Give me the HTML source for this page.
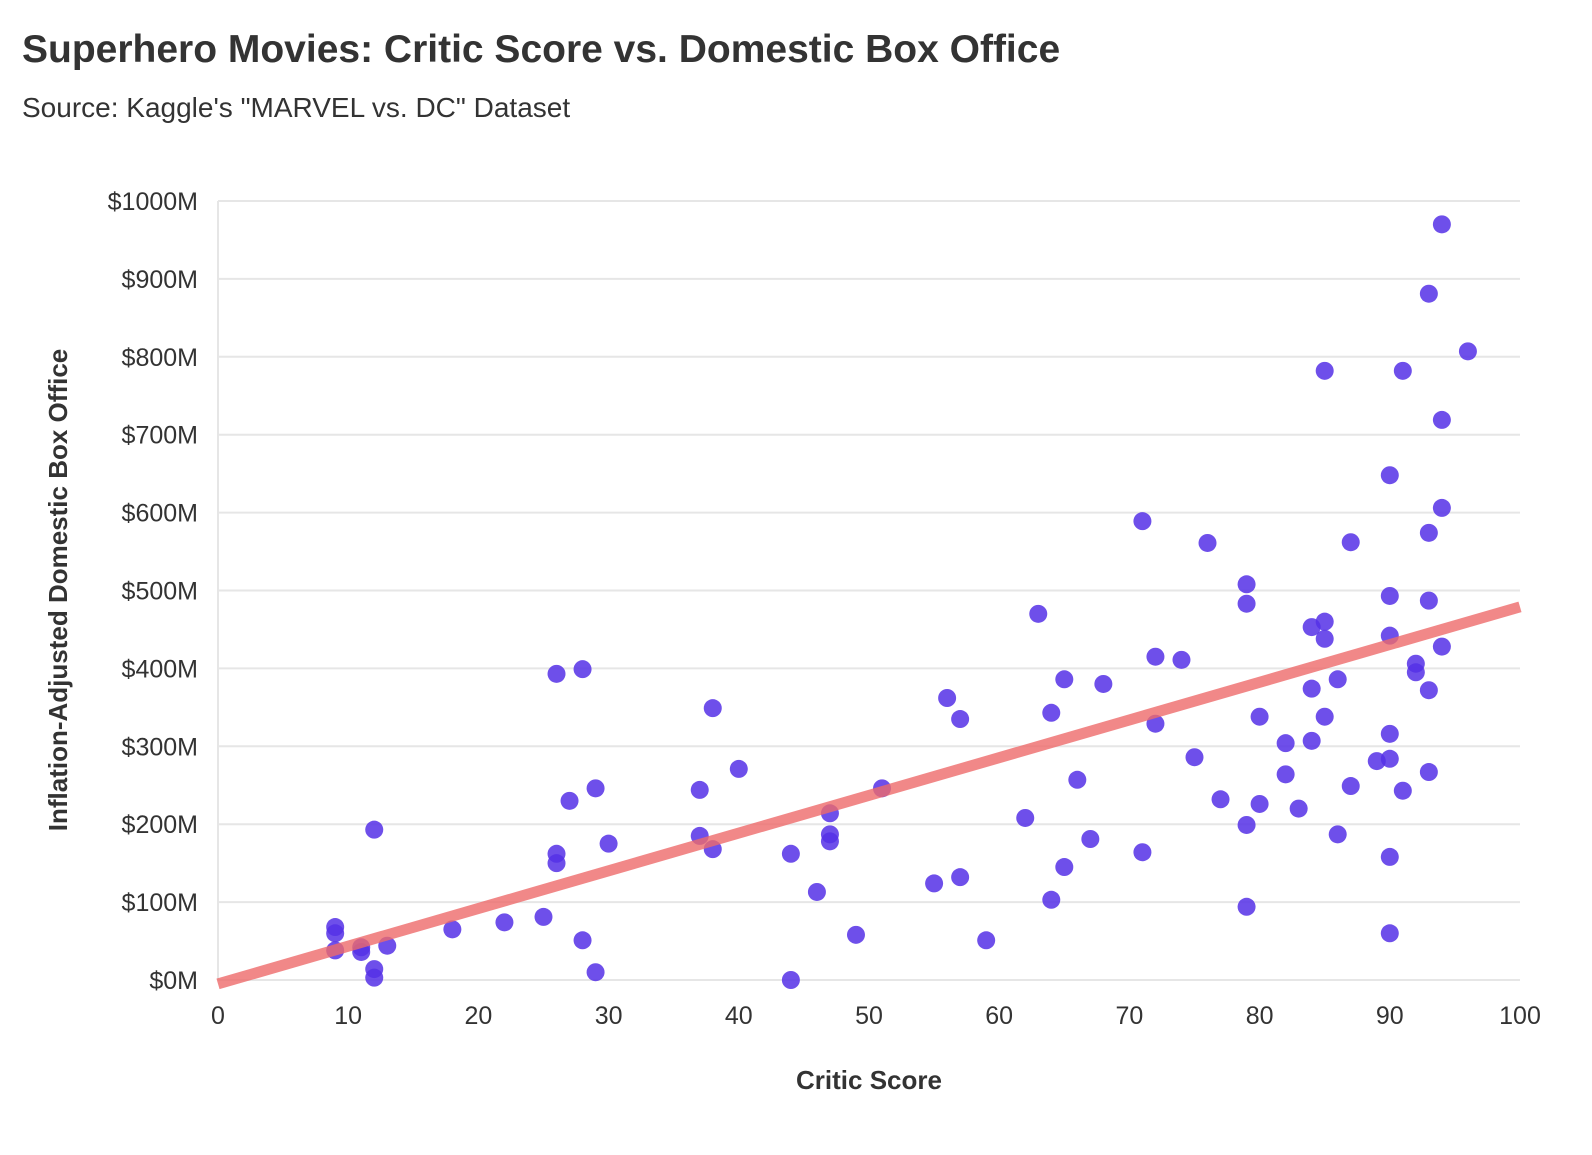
<!DOCTYPE html>
<html><head><meta charset="utf-8"><style>
body{margin:0;background:#fff;font-family:"Liberation Sans",sans-serif;}
svg text{font-family:"Liberation Sans",sans-serif;fill:#333;}
</style></head><body>
<svg id="chart" width="1592" height="1150" xmlns="http://www.w3.org/2000/svg">
<text x="22" y="62" font-size="39" font-weight="bold">Superhero Movies: Critic Score vs. Domestic Box Office</text>
<text x="22" y="117" font-size="28">Source: Kaggle's "MARVEL vs. DC" Dataset</text>
<g id="grid"></g>
<g id="yticks"></g>
<g id="xticks"></g>
<g id="pts"></g>
<g id="trend"></g>
<text x="869" y="1089" font-size="26" font-weight="bold" text-anchor="middle">Critic Score</text>
<text transform="translate(67,590) rotate(-90)" font-size="26" font-weight="bold" text-anchor="middle">Inflation-Adjusted Domestic Box Office</text>
</svg>
<script>
const xTicks=[0,10,20,30,40,50,60,70,80,90,100];
const yTicks=[0,100,200,300,400,500,600,700,800,900,1000];
const scores=[9,9,9,11,11,12,12,12,13,18,22,25,26,26,26,27,28,28,29,29,30,37,37,38,38,40,44,44,46,47,47,47,49,51,55,56,57,57,59,62,63,64,64,65,65,66,67,68,71,71,72,72,74,75,76,77,79,79,79,79,80,80,82,82,83,84,84,84,85,85,85,85,86,86,87,87,89,90,90,90,90,90,90,90,91,91,92,92,93,93,93,93,93,94,94,94,94,96];
const boxOffice=[68,60,38,42,36,193,14,3,44,65,74,81,393,162,150,230,399,51,246,10,175,244,185,349,168,271,162,0,113,214,187,178,58,246,124,362,335,132,51,208,470,343,103,386,145,257,181,380,589,164,415,329,411,286,561,232,508,483,199,94,338,226,304,264,220,453,374,307,782,460,438,338,386,187,562,249,281,648,493,442,316,284,158,60,782,243,406,395,881,574,487,372,267,970,719,606,428,807];
const trendIntercept=-5, trendSlope=4.84;
const NS='http://www.w3.org/2000/svg';
const X=v=>218+v*13.02, Y=v=>980-v*0.779;
function mk(t,a,p){const e=document.createElementNS(NS,t);for(const k in a)e.setAttribute(k,a[k]);p.appendChild(e);return e;}
const grid=document.getElementById('grid'),yg=document.getElementById('yticks'),xg=document.getElementById('xticks');
yTicks.forEach(v=>{
 const l=mk('line',{x1:218,x2:1520,y1:Y(v),y2:Y(v),stroke:'#e6e6e6','stroke-width':2},grid);
 
 
 const t=mk('text',{x:198,y:Y(v)+9,'font-size':25,'text-anchor':'end'},yg);
 t.textContent='$'+v+'M';
 
 
});
const ax=mk('line',{x1:218,x2:218,y1:201,y2:980,stroke:'#e6e6e6','stroke-width':2},grid);


xTicks.forEach(v=>{
 const t=mk('text',{x:X(v),y:1024,'font-size':25,'text-anchor':'middle'},xg);
 t.textContent=v;
 
 
});
const pg=document.getElementById('pts');
scores.forEach((s,i)=>{
 const c=mk('circle',{cx:X(s),cy:Y(boxOffice[i]),r:9,fill:'#5530e6','fill-opacity':0.85},pg);
 
 
});
const tl=mk('line',{x1:X(0),y1:Y(trendIntercept),x2:X(100),y2:Y(trendIntercept+trendSlope*100),stroke:'#ee6a6a','stroke-width':11,'stroke-opacity':0.8},document.getElementById('trend'));


</script>
</body></html>
